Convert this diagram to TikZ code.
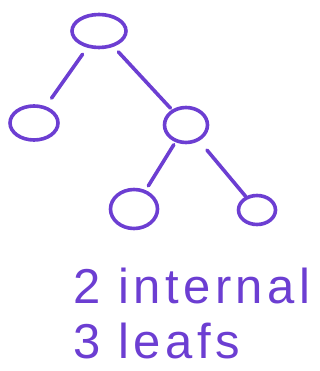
\documentclass[tikz,border=0pt]{standalone}
\usepackage{fontspec}
\newfontfamily\handfont[LetterSpace=9]{Liberation Sans}
\usetikzlibrary{shapes.geometric}
\definecolor{ink}{RGB}{108,62,210}
\begin{document}
\begin{tikzpicture}[x=1pt,y=-1pt,
  treenode/.style={ellipse,draw=ink,line width=3.6pt,inner sep=0pt},
  edge/.style={draw=ink,line width=3.6pt,line cap=round},
  label/.style={text=ink,font=\handfont\fontsize{49}{49}\selectfont,inner sep=0pt,anchor=base west}]
\useasboundingbox (0,0) rectangle (320,371);
\node[treenode,minimum width=54pt,minimum height=33pt] (root) at (99,31) {};
\node[treenode,minimum width=48pt,minimum height=34pt] (l) at (34,123) {};
\node[treenode,minimum width=43pt,minimum height=35pt] (r) at (186,125) {};
\node[treenode,minimum width=47pt,minimum height=39pt] (rl) at (134,209) {};
\node[treenode,minimum width=37pt,minimum height=29pt] (rr) at (257,210) {};
\draw[edge,shorten <=8pt,shorten >=10pt] (root) -- (l);
\draw[edge,shorten <=7pt,shorten >=2pt] (root) -- (r);
\draw[edge,shorten <=3pt,shorten >=5pt] (r) -- (rl);
\draw[edge,shorten <=12pt,shorten >=0pt] (r) -- (rr);
\node[label] (t1) at (73,303) {2 internal};
\node[label] (t2) at (73,358) {3 leafs};
\end{tikzpicture}
\end{document}
